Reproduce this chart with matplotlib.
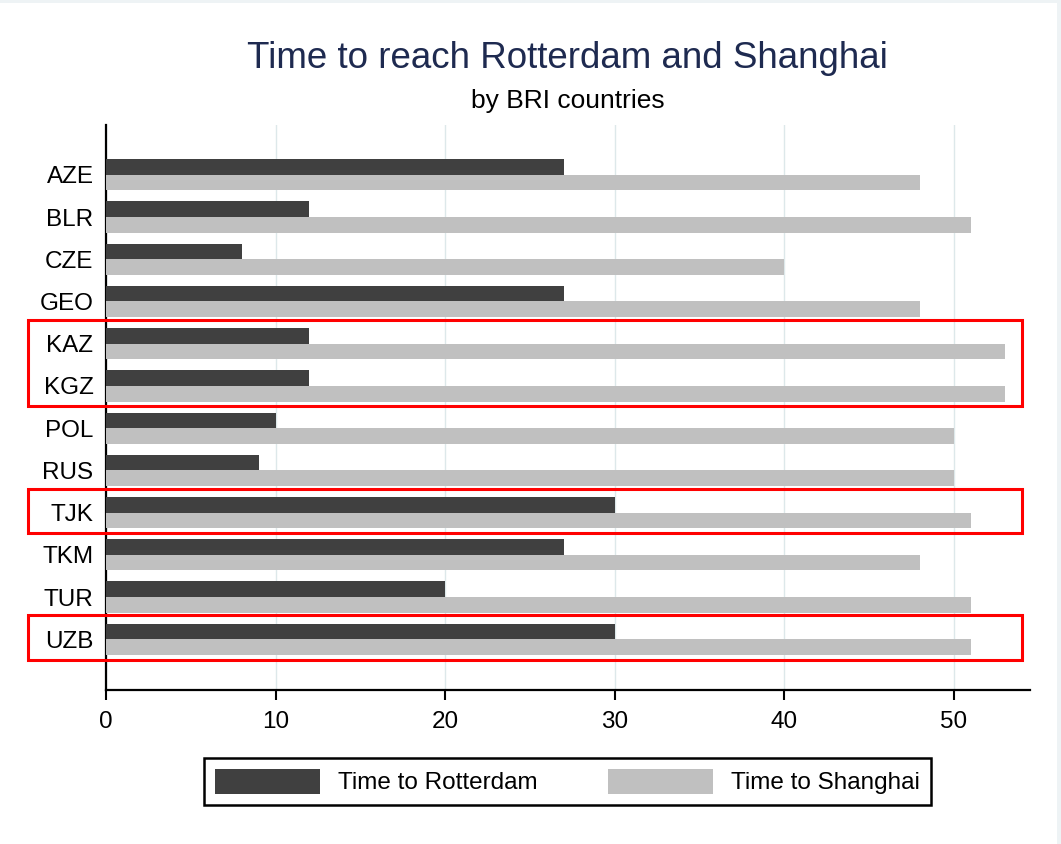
import numpy as np
import matplotlib
matplotlib.use("Agg")
import matplotlib.pyplot as plt
import matplotlib.patches as mpatches
import matplotlib.transforms as mtransforms

"""
    Data
"""
countries = ["AZE", "BLR", "CZE", "GEO", "KAZ", "KGZ", "POL", "RUS", "TJK", "TKM", "TUR", "UZB"]
time_rotterdam = [27, 12, 8, 27, 12, 12, 10, 9, 30, 27, 20, 30]
time_shanghai = [48, 51, 40, 48, 53, 53, 50, 50, 51, 48, 51, 51]

# groups of countries highlighted with red boxes
highlight_groups = [["KAZ", "KGZ"], ["TJK"], ["UZB"]]

xticks = [0, 10, 20, 30, 40, 50]

"""
    Style
"""
dark = "#404040"
light = "#c0c0c0"
plt.rcParams["font.family"] = ["Liberation Sans", "DejaVu Sans"]

fig = plt.figure(figsize=(10.61, 8.44), dpi=100)
fig.patch.set_facecolor("white")
# faint strips on the top and right edges of the page
fig.patches.append(mpatches.Rectangle((0, 0.9965), 1, 0.0035, transform=fig.transFigure,
                                      facecolor="#eef3f5", edgecolor="none"))
fig.patches.append(mpatches.Rectangle((0.9965, 0), 0.0035, 1, transform=fig.transFigure,
                                      facecolor="#eef3f5", edgecolor="none"))

ax = fig.add_axes([0.0999, 0.1825, 0.8709, 0.6694])

y = np.arange(len(countries))
h = 0.37

ax.barh(y - h / 2, time_rotterdam, height=h, color=dark, label="Time to Rotterdam", zorder=3)
ax.barh(y + h / 2, time_shanghai, height=h, color=light, label="Time to Shanghai", zorder=3)

ax.set_yticks(y)
ax.set_yticklabels(countries, fontsize=17.5)
ax.set_ylim(len(countries) - 1 + 1.2, -1.18)
ax.set_xlim(0, 54.5)
ax.set_xticks(xticks)
ax.set_xticklabels([str(t) for t in xticks], fontsize=17.5)

ax.tick_params(axis="y", length=0, pad=9)
ax.tick_params(axis="x", length=7, width=1.5, pad=8)

ax.grid(axis="x", color="#dde8ea", linewidth=1, zorder=0)
ax.set_axisbelow(True)

for side in ["top", "right"]:
    ax.spines[side].set_visible(False)
for side in ["left", "bottom"]:
    ax.spines[side].set_linewidth(1.6)
    ax.spines[side].set_color("black")

"""
    Titles
"""
fig.text(0.535, 0.931, "Time to reach Rotterdam and Shanghai", ha="center", va="center",
         fontsize=26.5, color="#1e2a50")
fig.text(0.535, 0.880, "by BRI countries", ha="center", va="center", fontsize=19, color="black")

"""
    Legend
"""
leg = fig.legend(loc="center", bbox_to_anchor=(0.535, 0.074), ncol=2, fontsize=17.5,
                 frameon=True, fancybox=False, edgecolor="black", framealpha=1,
                 handlelength=4.3, handleheight=1.2, columnspacing=2.9, handletextpad=0.75,
                 borderpad=0.45)
leg.get_frame().set_linewidth(1.8)

"""
    Red boxes around highlighted countries
"""
trans = mtransforms.blended_transform_factory(ax.transAxes, ax.transData)
for group in highlight_groups:
    idx = [countries.index(c) for c in group]
    top = min(idx) - 0.57
    bottom = max(idx) + 0.48
    rect = mpatches.Rectangle((-0.084, top), 1.075, bottom - top, transform=trans,
                              fill=False, edgecolor="red", linewidth=2.2, clip_on=False, zorder=5)
    ax.add_patch(rect)

fig.savefig("out.png", dpi=100)
